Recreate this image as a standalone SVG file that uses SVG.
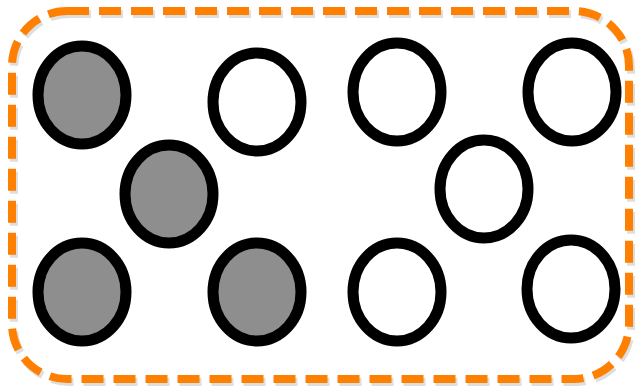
<svg xmlns="http://www.w3.org/2000/svg" width="638" height="388" viewBox="0 0 638 388">
<defs>
<style>
.c{stroke:#000;stroke-width:11;}
.g{fill:#8e8e8e;}
.w{fill:#fff;}
.frame{fill:none;stroke:#ff7f00;stroke-width:8;stroke-dasharray:22 10;}
.shadow{fill:none;stroke:#c8c8c8;stroke-width:8;stroke-dasharray:22 10;opacity:0.6;}
</style>
</defs>
<rect width="638" height="388" fill="#fff"/>
<g id="frame">
<rect class="shadow" x="14" y="14" width="617" height="368" rx="55"/>
<rect class="frame" x="12" y="11" width="617" height="368" rx="55"/>
</g>
<g id="connectors"></g>
<g id="n1"><ellipse class="c g" cx="82" cy="95" rx="44" ry="49"/></g>
<g id="n2"><ellipse class="c w" cx="257" cy="102" rx="44" ry="49"/></g>
<g id="n3"><ellipse class="c w" cx="397" cy="92" rx="44" ry="49"/></g>
<g id="n4"><ellipse class="c w" cx="572" cy="92" rx="44" ry="49"/></g>
<g id="n5"><ellipse class="c g" cx="169" cy="194" rx="44" ry="49"/></g>
<g id="n6"><ellipse class="c w" cx="484" cy="189" rx="44" ry="49"/></g>
<g id="n7"><ellipse class="c g" cx="82" cy="292" rx="44" ry="49"/></g>
<g id="n8"><ellipse class="c g" cx="257" cy="292" rx="44" ry="49"/></g>
<g id="n9"><ellipse class="c w" cx="397" cy="292" rx="44" ry="49"/></g>
<g id="n10"><ellipse class="c w" cx="571" cy="289" rx="44" ry="49"/></g>
</svg>
